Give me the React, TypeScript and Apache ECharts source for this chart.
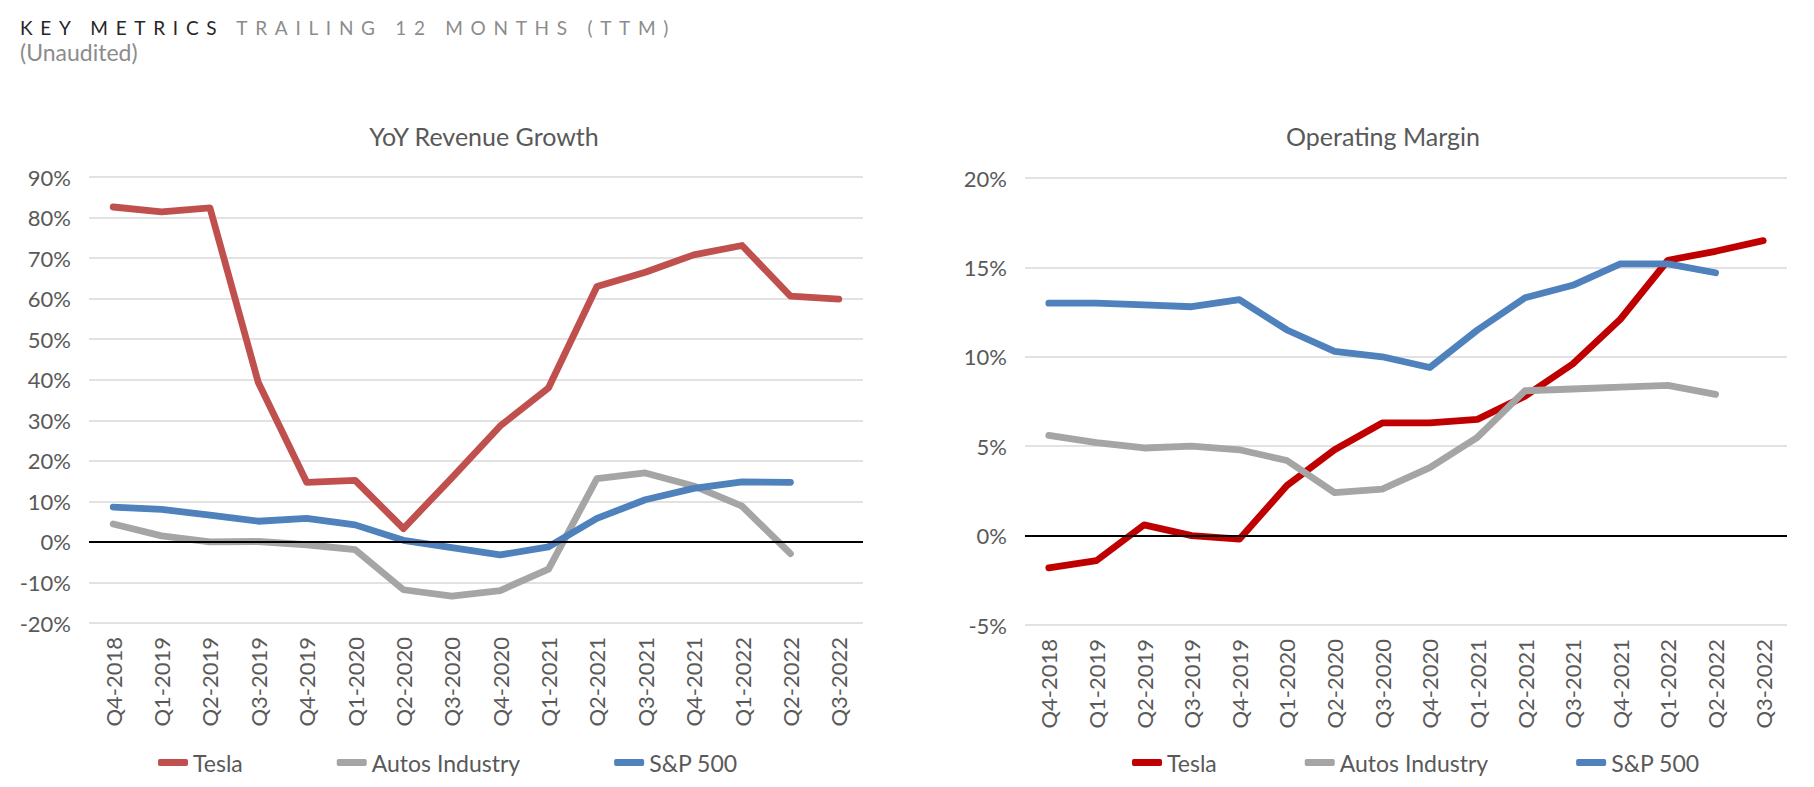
import React, { useEffect, useRef } from "react";
import * as echarts from "echarts";

const categories = [
  "Q4-2018", "Q1-2019", "Q2-2019", "Q3-2019", "Q4-2019", "Q1-2020", "Q2-2020", "Q3-2020",
  "Q4-2020", "Q1-2021", "Q2-2021", "Q3-2021", "Q4-2021", "Q1-2022", "Q2-2022", "Q3-2022",
];

const seriesNames = ["Tesla", "Autos Industry", "S&P 500"];

// YoY Revenue Growth (%)
const teslaRev = [82.6, 81.4, 82.4, 39.3, 14.7, 15.2, 3.3, 15.8, 28.6, 38.0, 63.0, 66.5, 70.8, 73.1, 60.6, 59.9];
const autosRev = [4.4, 1.5, 0.0, 0.1, -0.7, -1.9, -11.8, -13.4, -12.0, -6.7, 15.6, 17.0, 13.8, 8.8, -2.9, null];
const spRev = [8.6, 8.0, 6.6, 5.1, 5.8, 4.2, 0.4, -1.4, -3.2, -1.2, 5.8, 10.4, 13.2, 14.8, 14.7, null];

// Operating Margin (%)
const teslaOm = [-1.8, -1.4, 0.6, 0.0, -0.2, 2.8, 4.8, 6.3, 6.3, 6.5, 7.8, 9.6, 12.1, 15.4, 15.9, 16.5];
const autosOm = [5.6, 5.2, 4.9, 5.0, 4.8, 4.2, 2.4, 2.6, 3.8, 5.5, 8.1, 8.2, 8.3, 8.4, 7.9, null];
const spOm = [13.0, 13.0, 12.9, 12.8, 13.2, 11.5, 10.3, 10.0, 9.4, 11.5, 13.3, 14.0, 15.2, 15.2, 14.7, null];

const leftColors = ["#C0504D", "#A5A5A5", "#4F81BD"];
const rightColors = ["#C00000", "#A5A5A5", "#4F81BD"];

const FONT = "Lato, 'Noto Sans', sans-serif";
const LABEL = "#595959";

export default function App() {
  const ref = useRef<HTMLDivElement>(null);

  useEffect(() => {
    if (!ref.current) return;
    const chart = echarts.init(ref.current, null, { renderer: "svg" });

    const mkX = (gridIndex: number) => ({
      type: "category",
      gridIndex,
      data: categories,
      boundaryGap: true,
      axisLine: { show: false, onZero: false },
      axisTick: { show: false },
      axisLabel: { rotate: 90, margin: 14, fontSize: 22, color: LABEL, fontFamily: FONT },
      splitLine: { show: false },
    });

    const mkY = (gridIndex: number, min: number, max: number, interval: number) => ({
      type: "value",
      gridIndex,
      min,
      max,
      interval,
      axisLine: { show: false },
      axisTick: { show: false },
      axisLabel: { formatter: "{value}%", margin: 18, fontSize: 22, color: LABEL, fontFamily: FONT },
      splitLine: { show: true, lineStyle: { color: "#D9D9D9", width: 1.5 } },
    });

    const zeroLine = {
      silent: true,
      symbol: ["none", "none"],
      label: { show: false },
      lineStyle: { color: "#000000", width: 2.2, type: "solid" },
      data: [{ yAxis: 0 }],
    };

    const mkSeries = (
      name: string,
      data: (number | null)[],
      color: string,
      axisIndex: number,
      withZero: boolean,
      width: number
    ) => ({
      type: "line",
      name,
      data,
      xAxisIndex: axisIndex,
      yAxisIndex: axisIndex,
      symbol: "none",
      showSymbol: false,
      connectNulls: false,
      itemStyle: { color },
      lineStyle: { color, width, cap: "round", join: "round" },
      emphasis: { disabled: true },
      markLine: withZero ? zeroLine : undefined,
    });

    const mkLegend = (left: number, colors: string[], gap: number) => ({
      left,
      top: 751,
      padding: 0,
      orient: "horizontal",
      itemGap: gap,
      itemWidth: 30,
      itemHeight: 7,
      icon: "roundRect",
      selectedMode: false,
      textStyle: { fontSize: 23, color: LABEL, fontFamily: FONT },
      data: seriesNames.map((n, i) => ({ name: n, itemStyle: { color: colors[i] } })),
    });

    chart.setOption({
      animation: false,
      backgroundColor: "#ffffff",
      grid: [
        { left: 89, top: 177, width: 774, height: 446, containLabel: false },
        { left: 1025, top: 178, width: 762, height: 447, containLabel: false },
      ],
      xAxis: [mkX(0), mkX(1)],
      yAxis: [mkY(0, -20, 90, 10), mkY(1, -5, 20, 5)],
      legend: [mkLegend(158, leftColors, 94), mkLegend(1132, rightColors, 88)],
      graphic: [
        {
          type: "text",
          x: 484,
          y: 136,
          style: {
            text: "YoY Revenue Growth",
            fontSize: 25,
            fontFamily: FONT,
            fill: LABEL,
            textAlign: "center",
            textVerticalAlign: "middle",
          },
        },
        {
          type: "text",
          x: 1383,
          y: 136,
          style: {
            text: "Operating Margin",
            fontSize: 25,
            fontFamily: FONT,
            fill: LABEL,
            textAlign: "center",
            textVerticalAlign: "middle",
          },
        },
      ],
      series: [
        mkSeries(seriesNames[0], teslaRev, leftColors[0], 0, true, 6.8),
        mkSeries(seriesNames[1], autosRev, leftColors[1], 0, false, 6.8),
        mkSeries(seriesNames[2], spRev, leftColors[2], 0, false, 6.8),
        mkSeries(seriesNames[0], teslaOm, rightColors[0], 1, true, 6.8),
        mkSeries(seriesNames[1], autosOm, rightColors[1], 1, false, 6.8),
        mkSeries(seriesNames[2], spOm, rightColors[2], 1, false, 6.8),
      ],
    });

    return () => chart.dispose();
  }, []);

  return (
    <div
      style={{
        position: "fixed",
        left: 0,
        top: 0,
        width: 1814,
        height: 787,
        background: "#ffffff",
        overflow: "hidden",
      }}
    >
      <div ref={ref} style={{ position: "absolute", left: 0, top: 0, width: 1814, height: 787 }} />
      <div
        style={{
          position: "absolute",
          left: 20,
          top: 17,
          fontFamily: FONT,
          fontSize: 19,
          lineHeight: "22.8px",
          letterSpacing: "7.7px",
          whiteSpace: "nowrap",
          pointerEvents: "none",
        }}
      >
        <span style={{ color: "#262626" }}>KEY METRICS</span>{" "}
        <span style={{ color: "#8C8C8C" }}>TRAILING 12 MONTHS (TTM)</span>
      </div>
      <div
        style={{
          position: "absolute",
          left: 20,
          top: 39,
          fontFamily: FONT,
          fontSize: 23,
          lineHeight: "27.6px",
          color: "#8C8C8C",
          whiteSpace: "nowrap",
          pointerEvents: "none",
        }}
      >
        (Unaudited)
      </div>
    </div>
  );
}
